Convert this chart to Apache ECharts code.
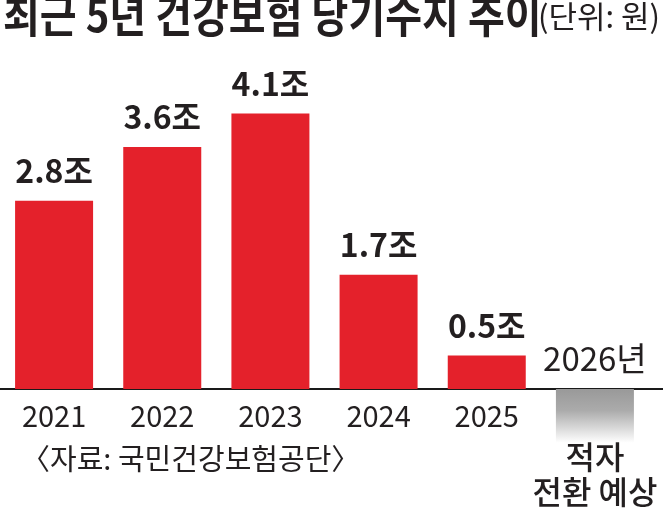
<!DOCTYPE html>
<html>
<head>
<meta charset="utf-8">
<script src="https://cdn.jsdelivr.net/npm/echarts@6/dist/echarts.min.js"></script>
<style>
html,body{margin:0;padding:0;background:#fff;}
#main{width:663px;height:518px;}
</style>
</head>
<body>
<div id="main"></div>
<script>
// ---- data ----
const categories = ['2021', '2022', '2023', '2024', '2025', '2026'];
const surplus = [2.8, 3.6, 4.1, 1.7, 0.5, null];    // 조 원
const outlook = [null, null, null, null, null, -0.8]; // 2026 적자 전환 예상 (visual marker)
const yearTag = [null, null, null, null, null, 0];    // anchor for the "2026년" tag
const titleText = '최근 5년 건강보험 당기수지 추이';
const unitText = '(단위: 원)';
const sourceText = '〈자료: 국민건강보험공단〉';
const outlookText = '적자\n전환 예상';

const INK = '#231f20';
const RED = '#e4212b';
const KR = "'Noto Sans CJK KR', sans-serif";

const chart = echarts.init(document.getElementById('main'));
chart.setOption({
  backgroundColor: '#fff',
  animation: false,
  grid: [
    { left: -1, width: 650, top: 53, bottom: 129 },
    { left: 0, right: 0, top: 53, bottom: 129 }
  ],
  xAxis: [
    {
      type: 'category', gridIndex: 0, data: categories,
      axisLine: { show: false }, axisTick: { show: false },
      axisLabel: {
        interval: 0, margin: 12, color: INK, fontFamily: KR, fontSize: 29,
        formatter: function (v, i) { return i === 5 ? '' : v; }
      }
    },
    {
      type: 'value', gridIndex: 1, min: 0, max: 1,
      axisLine: { show: true, lineStyle: { color: '#1a1a1a', width: 2 } },
      axisTick: { show: false }, axisLabel: { show: false }, splitLine: { show: false }
    }
  ],
  yAxis: [
    { type: 'value', gridIndex: 0, min: 0, max: 5, show: false },
    { type: 'value', gridIndex: 1, min: 0, max: 1, show: false }
  ],
  series: [
    {
      type: 'bar', xAxisIndex: 0, yAxisIndex: 0, data: surplus,
      barWidth: 78, barGap: '-100%',
      itemStyle: { color: RED },
      label: {
        show: true, position: 'top', distance: 14,
        fontFamily: KR, fontSize: 32, fontWeight: 'bold', color: INK,
        formatter: function (p) { return p.value + '조'; }
      }
    },
    {
      type: 'bar', xAxisIndex: 0, yAxisIndex: 0, data: outlook,
      barWidth: 78, barGap: '-100%', clip: false,
      itemStyle: {
        color: new echarts.graphic.LinearGradient(0, 0, 0, 1, [
          { offset: 0, color: '#999999' },
          { offset: 0.4, color: '#ababab' },
          { offset: 1, color: '#ffffff' }
        ])
      },
      label: {
        show: true, position: 'bottom', distance: -3,
        fontFamily: KR, fontSize: 32, fontWeight: 500, lineHeight: 35, color: INK,
        formatter: function () { return outlookText; }
      }
    },
    {
      type: 'bar', xAxisIndex: 0, yAxisIndex: 0, data: yearTag,
      barWidth: 78, barGap: '-100%',
      itemStyle: { color: 'rgba(0,0,0,0)' },
      label: {
        show: true, position: 'top', distance: 14,
        fontFamily: KR, fontSize: 33, color: INK,
        formatter: function (p) { return p.name + '년'; }
      }
    }
  ],
  graphic: [
    {
      type: 'text', x: 3, y: -8, scaleX: 0.87,
      style: { text: titleText, fill: INK, font: "bold 46px 'Noto Sans CJK KR', sans-serif", textVerticalAlign: 'top' }
    },
    {
      type: 'text', x: 538, y: 1,
      style: { text: unitText, fill: INK, font: "31px 'Noto Sans CJK KR', sans-serif", textVerticalAlign: 'top' }
    },
    {
      type: 'text', x: 21, y: 444,
      style: { text: sourceText, fill: INK, font: "29px 'Noto Sans CJK KR', sans-serif", textVerticalAlign: 'top' }
    }
  ]
});
</script>
</body>
</html>
